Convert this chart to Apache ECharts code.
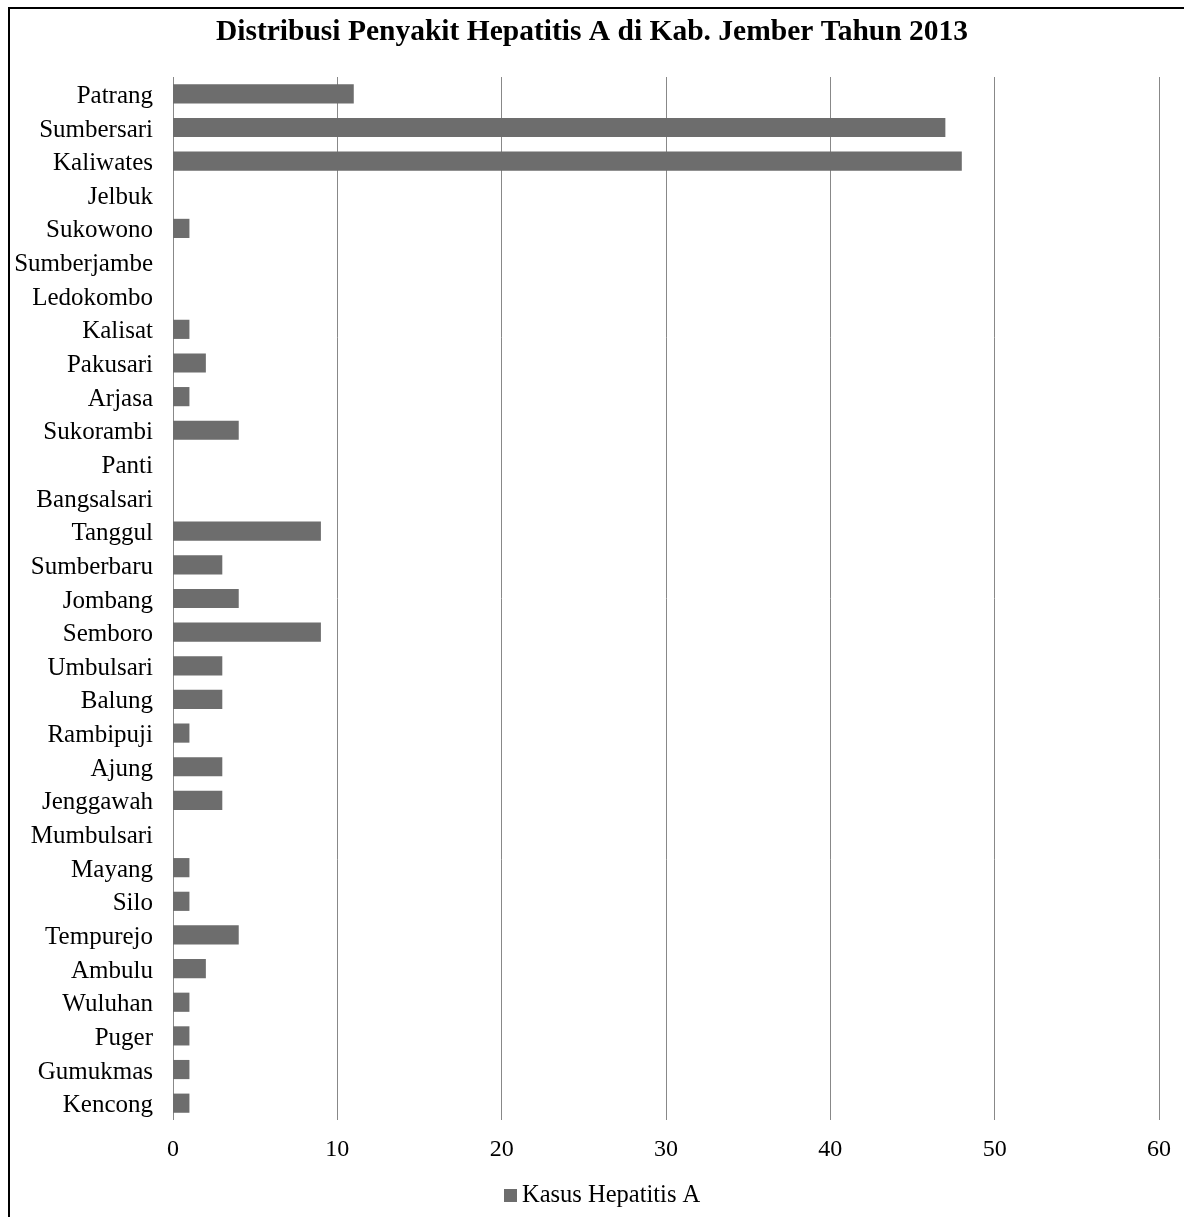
<!DOCTYPE html>
<html><head><meta charset="utf-8">
<script src="https://cdn.jsdelivr.net/npm/echarts@6/dist/echarts.min.js"></script>
<style>
html,body{margin:0;padding:0;background:#fff;}
#frame{position:absolute;left:8px;top:7px;width:1190px;height:1230px;border:2px solid #000;box-sizing:border-box;}
#chart{position:absolute;left:0;top:0;width:1184px;height:1217px;}
</style></head>
<body>
<div id="frame"></div>
<div id="chart"></div>
<script>
const categories = ["Patrang","Sumbersari","Kaliwates","Jelbuk","Sukowono","Sumberjambe","Ledokombo","Kalisat","Pakusari","Arjasa","Sukorambi","Panti","Bangsalsari","Tanggul","Sumberbaru","Jombang","Semboro","Umbulsari","Balung","Rambipuji","Ajung","Jenggawah","Mumbulsari","Mayang","Silo","Tempurejo","Ambulu","Wuluhan","Puger","Gumukmas","Kencong"];
const kasus = [11,47,48,0,1,0,0,1,2,1,4,0,0,9,3,4,9,3,3,1,3,3,0,1,1,4,2,1,1,1,1];
const xTicks = [0,10,20,30,40,50,60];
const seriesName = 'Kasus Hepatitis A';
const font = "'Liberation Serif', serif";
const chart = echarts.init(document.getElementById('chart'));
chart.setOption({
  backgroundColor: 'transparent',
  animation: false,
  textStyle: {fontFamily: font},
  title: {text: 'Distribusi Penyakit Hepatitis A di Kab. Jember Tahun 2013', left: 'center', top: 12,
    textStyle: {fontFamily: font, fontSize: 29.5, fontWeight: 'bold', color: '#000'}},
  legend: {bottom: 4, left: 499, icon: 'rect', itemWidth: 13, itemHeight: 13, itemGap: 4,
    textStyle: {fontFamily: font, fontSize: 24.5, color: '#000'},
    data: [seriesName]},
  grid: {left: 173, top: 77, width: 986, height: 1043, containLabel: false},
  xAxis: {type: 'value', min: xTicks[0], max: xTicks[xTicks.length-1], interval: 10,
    axisLine: {show: false}, axisTick: {show: false},
    splitLine: {show: true, lineStyle: {color: '#888', width: 1}},
    axisLabel: {margin: 18, fontFamily: font, fontSize: 24, color: '#000'}},
  yAxis: {type: 'category', data: categories, inverse: true,
    axisLine: {show: false}, axisTick: {show: false},
    axisLabel: {margin: 20, fontFamily: font, fontSize: 25, color: '#000',
      formatter: '{l|{value}}', rich: {l: {fontFamily: font, fontSize: 25, color: '#000', padding: [5, 0, 0, 0]}}}},
  series: [{name: seriesName, type: 'bar', data: kasus, barCategoryGap: '43%',
    itemStyle: {color: '#6d6d6d'}}]
});
</script>
</body></html>
